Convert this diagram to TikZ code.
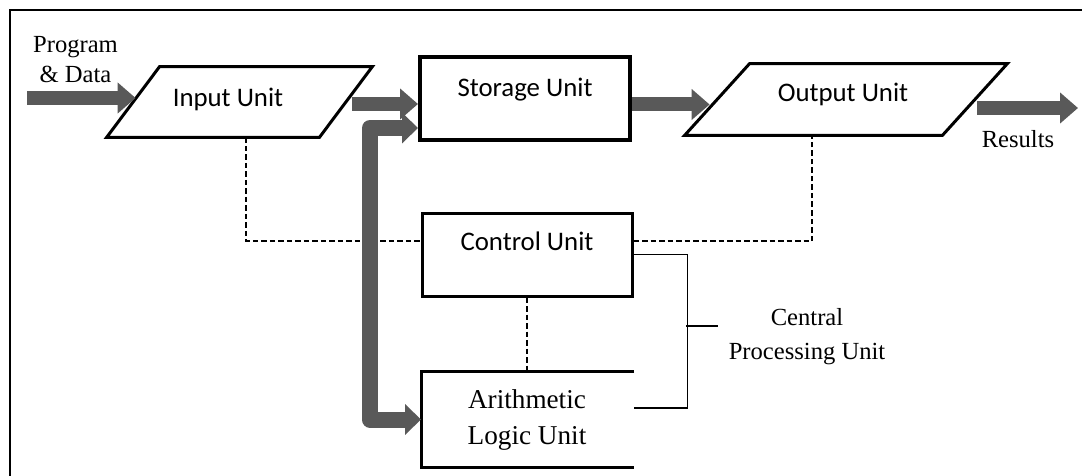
\documentclass[tikz,border=0pt]{standalone}
\usepackage{fontspec}
\setmainfont{Liberation Serif}
\newfontfamily\unitfont{Carlito}
\usetikzlibrary{calc, positioning, arrows.meta}
\definecolor{flowgray}{RGB}{89,89,89}

\begin{document}
\begin{tikzpicture}[x=0.5pt, y=-0.5pt,
    box/.style={draw, line width=1.5pt, minimum width=105pt, inner sep=0pt},
    io/.style={inner sep=0pt},
    iopath/.style={line width=1.5pt},
    unittext/.style={anchor=base, inner sep=0pt, font=\unitfont\fontsize{13.4}{16}\selectfont},
    serif/.style={inner sep=0pt, align=center, font=\fontsize{12.3}{15}\selectfont},
    flow/.style={draw=flowgray, line width=7pt, -{Triangle[length=9pt, width=15pt]}},
    link/.style={line width=0.9pt, dash pattern=on 2.75pt off 1.5pt},
    brace/.style={line width=0.8pt}]
      \useasboundingbox (0,0) rectangle (1082,476);
      \draw[line width=1.2pt] (10,476) -- (10,10) -- (1082,10);

      \node[io, minimum width=132.5pt, minimum height=35pt] (Input) at (239.5,102) {};
      \node[io, minimum width=161pt, minimum height=35.5pt] (Output) at (846,99.5) {};
      \draw[iopath] (Input.south west) -- ($(Input.north west)+(53,0)$) -- (Input.north east) -- ($(Input.south east)+(-53,0)$) -- cycle;
      \draw[iopath] (Output.south west) -- ($(Output.north west)+(65,0)$) -- (Output.north east) -- ($(Output.south east)+(-65,0)$) -- cycle;
      \node[box, line width=2pt, minimum height=41.5pt] (Storage) at (525,98.5) {};
      \node[box, minimum height=41.5pt] (Control) at (527,254.5) {};
      \node[box, draw=none, minimum height=46.5pt] (Alu) at (527.5,419.5) {};
      \draw[line width=1.5pt] (Alu.north east) -- (Alu.north west) -- (Alu.south west) -- (Alu.south east);

      \node[unittext] (InputTxt) at (228,107) {Input Unit};
      \node[unittext] (StorageTxt) at (525,97) {Storage Unit};
      \node[unittext] (OutputTxt) at (843,102) {Output Unit};
      \node[unittext] (ControlTxt) at (527,250) {Control Unit};
      \node[serif, font=\fontsize{13.6}{18}\selectfont] (AluTxt) at (527,420) {Arithmetic\\Logic Unit};
      \node[serif] (ProgTxt) at (75.5,60) {Program\\\& Data};
      \node[serif, anchor=base] (ResTxt) at (1018,148) {Results};
      \node[serif, font=\fontsize{12.3}{17}\selectfont] (CpuTxt) at (807,337) {Central\\Processing Unit};

      \draw[link] ($(Input.south)+(6.5,0)$) |- ([yshift=6.75pt]Control.west);
      \draw[link] ([yshift=6.75pt]Control.east) -| ($(Output.south)+(-34,0)$);
      \draw[link] (Control.south) -- (Control.south |- Alu.north);

      \coordinate (ProgIn) at (27,98);
      \coordinate (ResOut) at (1078,108);
      \draw[flow] (ProgIn) -- ($(ProgIn -| Input.west)+(29,0)$);
      \draw[flow] ($(Input.east)+(-20,2)$) -- ($(Storage.west)+(0,5.5)$);
      \draw[flow] ($(Storage.east)+(0,6)$) -- ($(Output.west)+(25,5)$);
      \draw[flow] ($(ResOut -| Output.east)+(-30,0)$) -- (ResOut);
      \draw[flow, line width=8pt, line join=round, {Triangle[length=8pt, width=15pt]}-{Triangle[length=8pt, width=15pt]}] ([yshift=-14.75pt]Storage.west) -- ++(-24pt,0) |- (Alu.west);

      \draw[brace] (Control.east) -- ++(27pt,0) |- ([yshift=5.75pt]Alu.east);
      \coordinate (CpuTick) at (686,326);
      \draw[brace] (CpuTick) -- ++(16pt,0);
    \end{tikzpicture}
\end{document}
